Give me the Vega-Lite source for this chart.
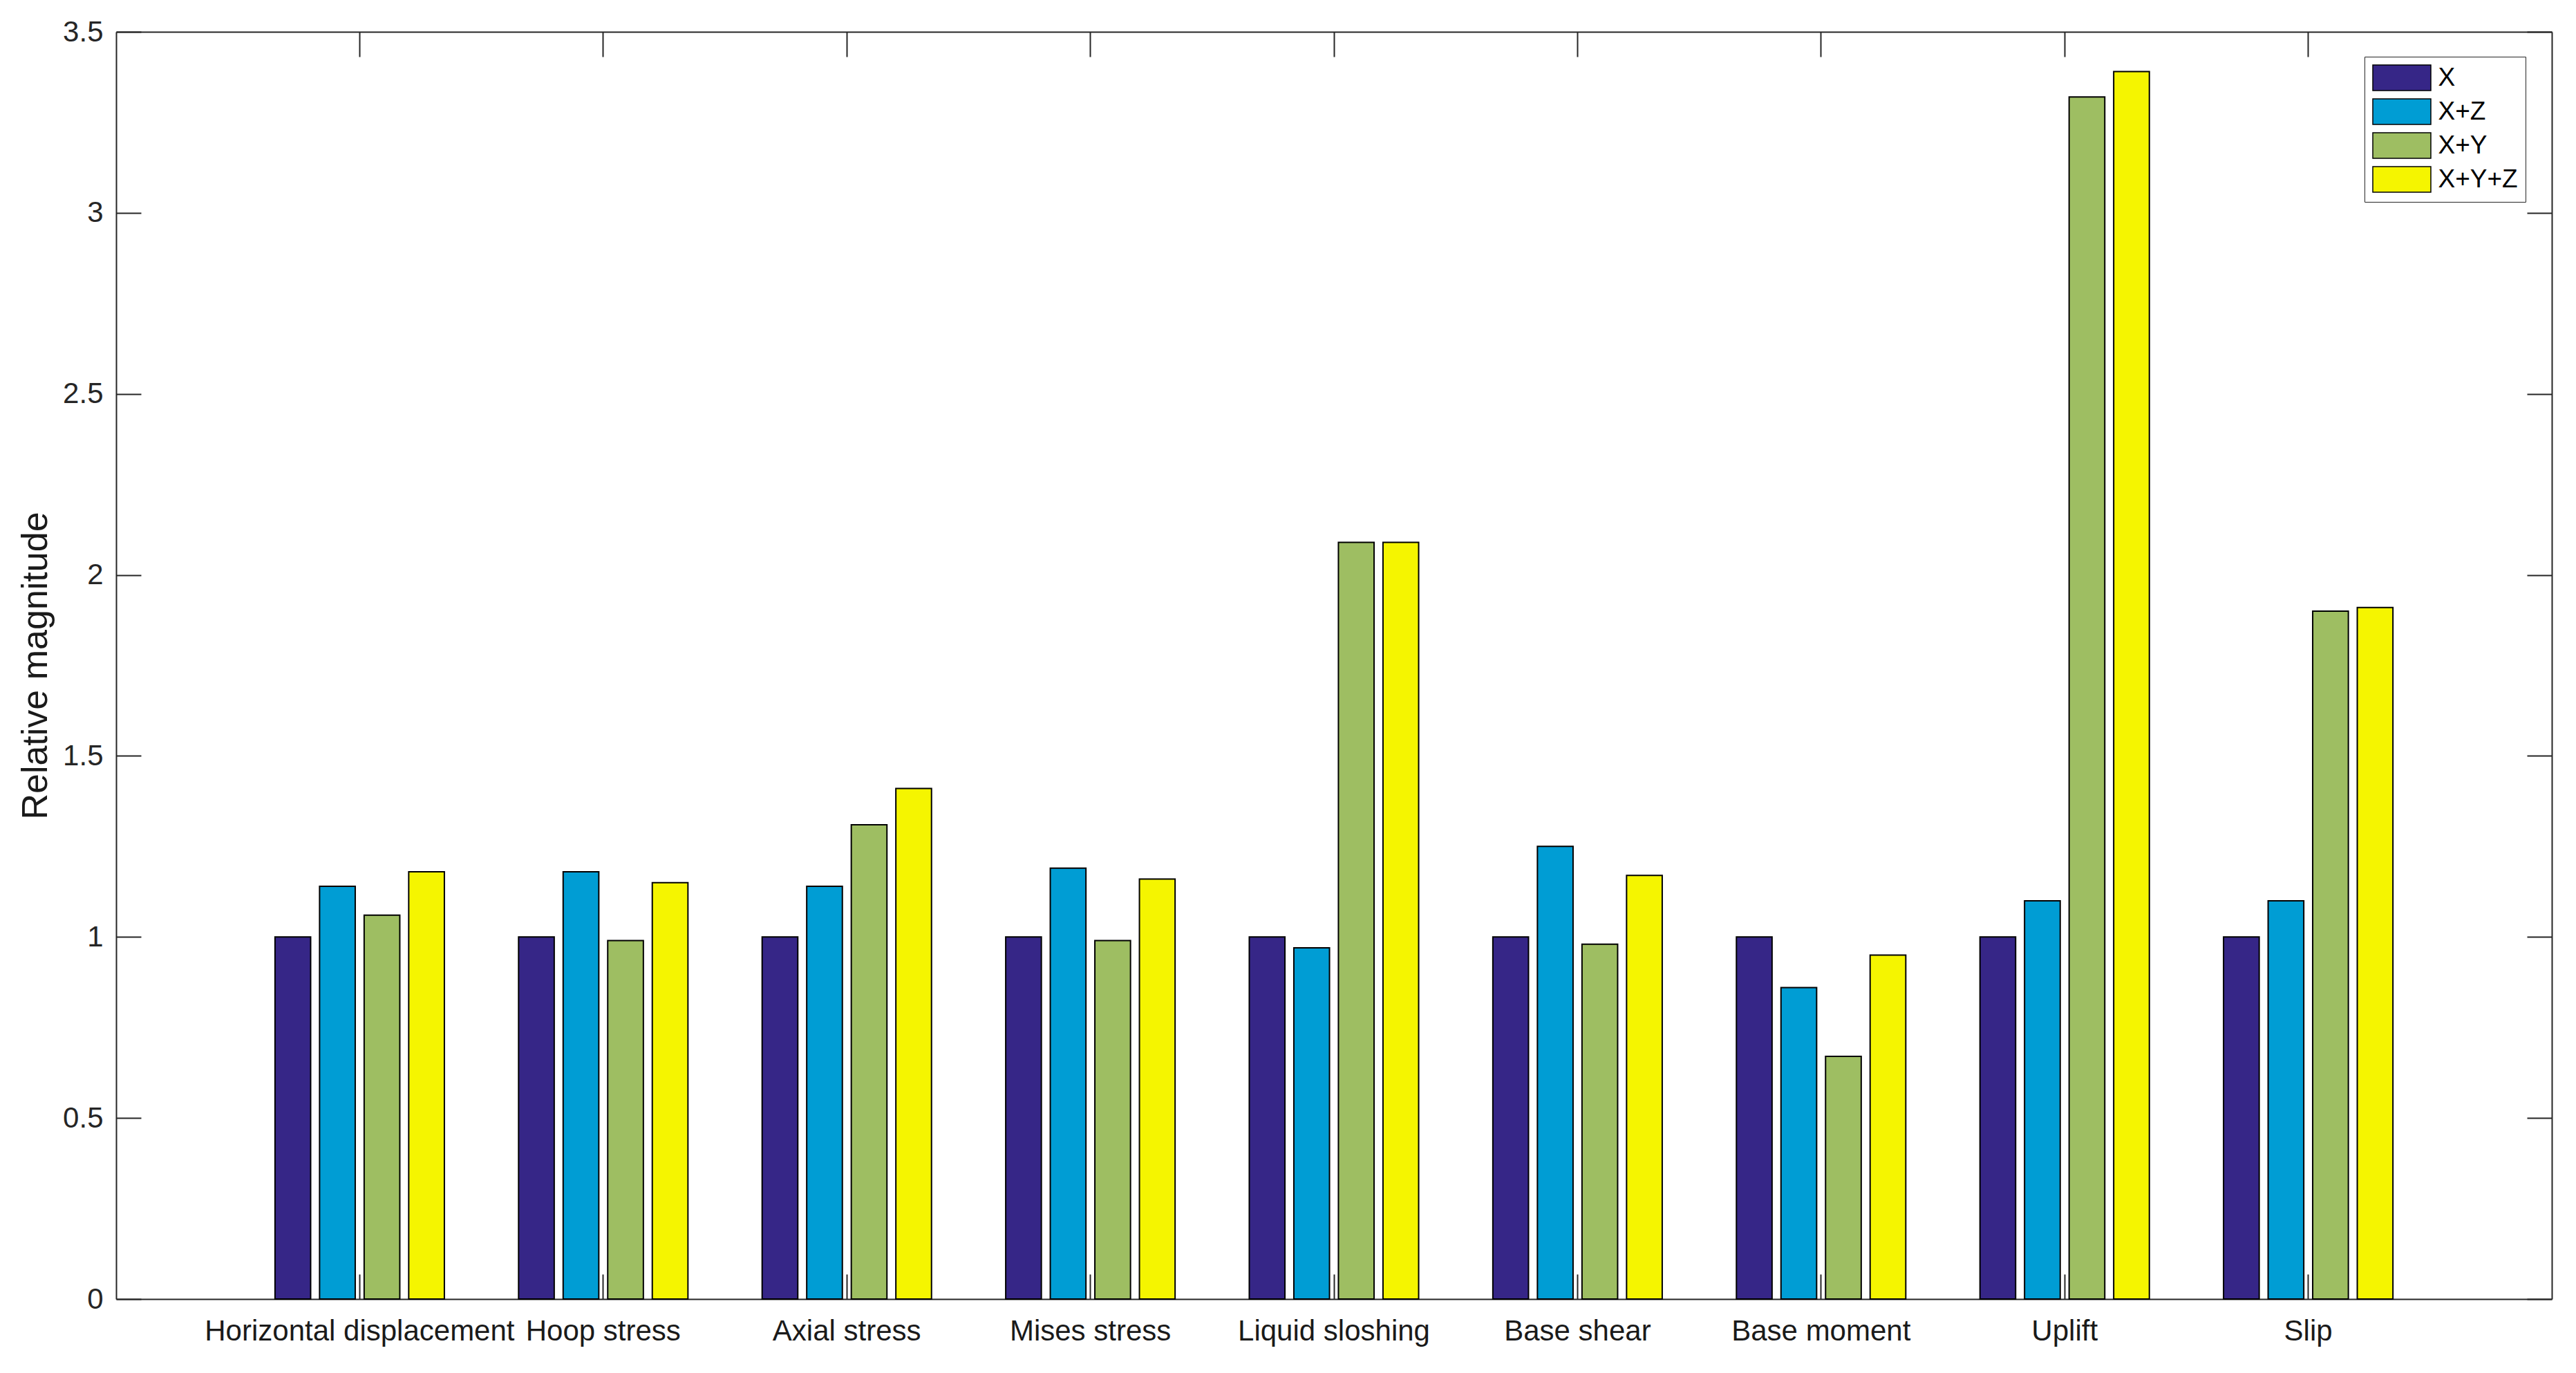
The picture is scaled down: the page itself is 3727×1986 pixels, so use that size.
{
  "$schema": "https://vega.github.io/schema/vega-lite/v6.json",
  "autosize": {"type": "none"},
  "width": 3524,
  "height": 1833,
  "padding": {"left": 168, "top": 46, "right": 35, "bottom": 107},
  "background": "white",
  "data": {
    "values": [
      {"cat": "Horizontal displacement", "series": "X", "value": 1.0},
      {"cat": "Horizontal displacement", "series": "X+Z", "value": 1.14},
      {"cat": "Horizontal displacement", "series": "X+Y", "value": 1.06},
      {"cat": "Horizontal displacement", "series": "X+Y+Z", "value": 1.18},
      {"cat": "Hoop stress", "series": "X", "value": 1.0},
      {"cat": "Hoop stress", "series": "X+Z", "value": 1.18},
      {"cat": "Hoop stress", "series": "X+Y", "value": 0.99},
      {"cat": "Hoop stress", "series": "X+Y+Z", "value": 1.15},
      {"cat": "Axial stress", "series": "X", "value": 1.0},
      {"cat": "Axial stress", "series": "X+Z", "value": 1.14},
      {"cat": "Axial stress", "series": "X+Y", "value": 1.31},
      {"cat": "Axial stress", "series": "X+Y+Z", "value": 1.41},
      {"cat": "Mises stress", "series": "X", "value": 1.0},
      {"cat": "Mises stress", "series": "X+Z", "value": 1.19},
      {"cat": "Mises stress", "series": "X+Y", "value": 0.99},
      {"cat": "Mises stress", "series": "X+Y+Z", "value": 1.16},
      {"cat": "Liquid sloshing", "series": "X", "value": 1.0},
      {"cat": "Liquid sloshing", "series": "X+Z", "value": 0.97},
      {"cat": "Liquid sloshing", "series": "X+Y", "value": 2.09},
      {"cat": "Liquid sloshing", "series": "X+Y+Z", "value": 2.09},
      {"cat": "Base shear", "series": "X", "value": 1.0},
      {"cat": "Base shear", "series": "X+Z", "value": 1.25},
      {"cat": "Base shear", "series": "X+Y", "value": 0.98},
      {"cat": "Base shear", "series": "X+Y+Z", "value": 1.17},
      {"cat": "Base moment", "series": "X", "value": 1.0},
      {"cat": "Base moment", "series": "X+Z", "value": 0.86},
      {"cat": "Base moment", "series": "X+Y", "value": 0.67},
      {"cat": "Base moment", "series": "X+Y+Z", "value": 0.95},
      {"cat": "Uplift", "series": "X", "value": 1.0},
      {"cat": "Uplift", "series": "X+Z", "value": 1.1},
      {"cat": "Uplift", "series": "X+Y", "value": 3.32},
      {"cat": "Uplift", "series": "X+Y+Z", "value": 3.39},
      {"cat": "Slip", "series": "X", "value": 1.0},
      {"cat": "Slip", "series": "X+Z", "value": 1.1},
      {"cat": "Slip", "series": "X+Y", "value": 1.9},
      {"cat": "Slip", "series": "X+Y+Z", "value": 1.91}
    ]
  },
  "layer": [
    {
      "mark": {"type": "bar", "stroke": "black", "strokeWidth": 2},
      "encoding": {
        "x": {
          "field": "cat", "type": "nominal", "sort": null,
          "scale": {"paddingInner": 0.268, "paddingOuter": 0.634},
          "axis": {"orient": "bottom", "title": null, "labelAngle": 0, "tickSize": -36, "labelPadding": 62, "labelFontSize": 42, "labelLimit": 0, "labelOverlap": false, "labelColor": "#1a1a1a"}
        },
        "xOffset": {
          "field": "series", "type": "nominal", "sort": ["X", "X+Z", "X+Y", "X+Y+Z"],
          "scale": {"paddingInner": 0.2, "paddingOuter": 0.1}
        },
        "y": {
          "field": "value", "type": "quantitative",
          "scale": {"domain": [0, 3.5], "nice": false, "zero": true},
          "axis": {"orient": "left", "title": "Relative magnitude", "values": [0, 0.5, 1, 1.5, 2, 2.5, 3, 3.5], "format": "~g", "tickSize": -36, "labelPadding": 55, "titleFontSize": 52, "titleFontWeight": "normal", "titlePadding": 12, "titleColor": "#1a1a1a", "titleFont": "Liberation Sans"}
        },
        "color": {
          "field": "series", "type": "nominal",
          "scale": {"domain": ["X", "X+Z", "X+Y", "X+Y+Z"], "range": ["#362687", "#009DD4", "#9EBE62", "#F5F500"]},
          "legend": {
            "title": null, "orient": "none", "legendX": 3253, "legendY": 36,
            "strokeColor": "#262626", "fillColor": "white", "padding": 11,
            "symbolType": "M-2.27,-1H2.27V1H-2.27Z", "symbolSize": 1369,
            "symbolStrokeColor": "black", "symbolStrokeWidth": 1.5, "symbolOpacity": 1,
            "symbolOffset": 23.5, "labelOffset": 33,
            "labelFontSize": 37, "labelFont": "Liberation Sans", "labelColor": "black",
            "rowPadding": 6
          }
        }
      }
    },
    {
      "mark": {"type": "tick", "opacity": 0},
      "encoding": {
        "x": {
          "field": "cat", "type": "nominal", "sort": null,
          "scale": {"paddingInner": 0.268, "paddingOuter": 0.634},
          "axis": {"orient": "top", "title": null, "labels": false, "tickSize": -36}
        },
        "y": {
          "field": "value", "type": "quantitative",
          "scale": {"domain": [0, 3.5], "nice": false, "zero": true},
          "axis": {"orient": "right", "title": null, "labels": false, "values": [0, 0.5, 1, 1.5, 2, 2.5, 3, 3.5], "tickSize": -36}
        }
      }
    }
  ],
  "resolve": {"axis": {"x": "independent", "y": "independent"}},
  "config": {
    "view": {"stroke": null},
    "axis": {
      "grid": false,
      "domainColor": "#262626", "domainWidth": 2,
      "tickColor": "#262626", "tickWidth": 2,
      "labelColor": "#262626", "labelFont": "Liberation Sans", "labelFontSize": 42
    }
  }
}
